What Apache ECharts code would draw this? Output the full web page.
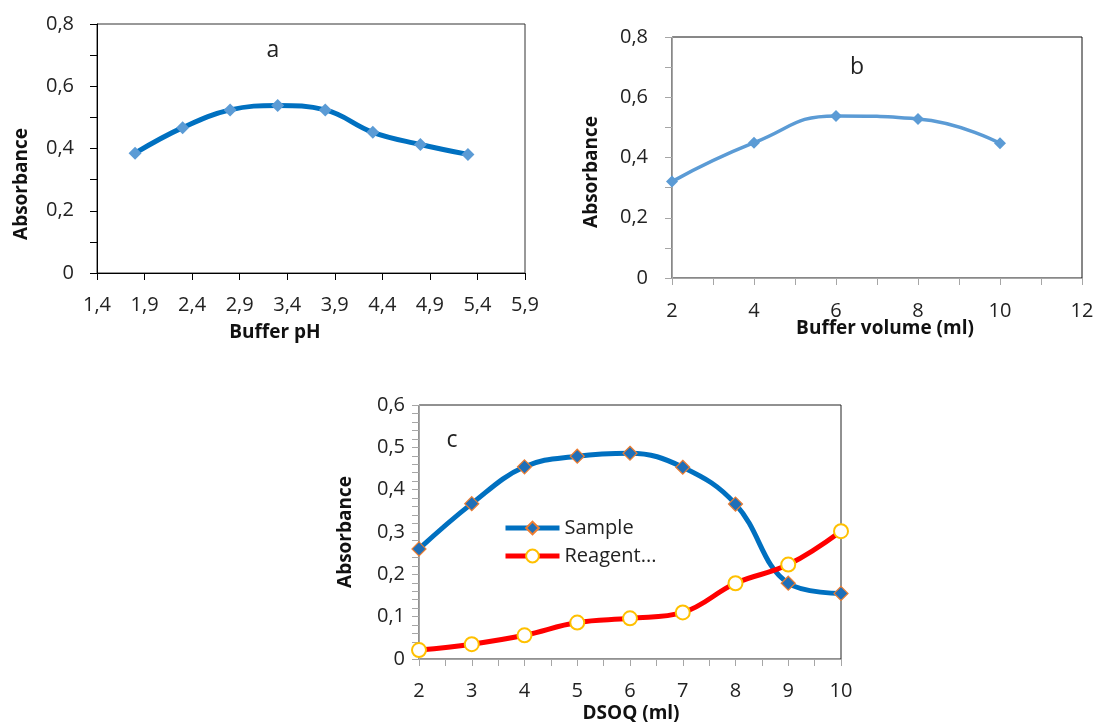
<!DOCTYPE html>
<html>
<head>
<meta charset="utf-8">
<script src="https://cdn.jsdelivr.net/npm/echarts@6/dist/echarts.min.js"></script>
<style>
  html, body { margin: 0; padding: 0; background: #fff; }
  #chart { width: 1101px; height: 722px; }
</style>
</head>
<body>
<div id="chart"></div>
<script>
// a: buffer pH
const phTickStart = 1.4;
const phValues = [1.8, 2.3, 2.8, 3.3, 3.8, 4.3, 4.8, 5.3];
const absorbanceA = [0.385, 0.467, 0.524, 0.538, 0.524, 0.452, 0.413, 0.381];

// b: buffer volume
const bufferVolume = [2, 4, 6, 8, 10];
const absorbanceB = [0.320, 0.449, 0.538, 0.528, 0.447];

// c: DSOQ volume
const dsoqVolume = [2, 3, 4, 5, 6, 7, 8, 9, 10];
const sampleAbs = [0.260, 0.367, 0.454, 0.479, 0.486, 0.453, 0.366, 0.179, 0.155];
const reagentAbs = [0.021, 0.035, 0.056, 0.086, 0.096, 0.110, 0.179, 0.223, 0.302];

const FONT = '"Open Sans", "Noto Sans", sans-serif';
const comma = (v) => String(+v.toFixed(1)).replace('.', ',');
// only label every n-th fine tick (ticks are drawn at the finer step)
const every = (step, fmt) => (v) => {
    const k = v / step;
    return Math.abs(k - Math.round(k)) < 1e-6 ? fmt(v) : '';
};

const labelStyle = { color: '#222', fontSize: 20, fontFamily: FONT };

const makeAxis = (grid, opts, lineColor, margin) => Object.assign({
    gridIndex: grid,
    type: 'value',
    splitLine: { show: false },
    axisLine: { show: true, onZero: false, lineStyle: { color: lineColor, width: 1 } },
    axisTick: { show: true, inside: false, interval: 0, length: 7, lineStyle: { color: lineColor } },
    axisLabel: Object.assign({ margin: margin, interval: 0 }, labelStyle)
}, opts);

const withFormatter = (fmt, margin) => Object.assign({ margin: margin, interval: 0, formatter: fmt }, labelStyle);

const axisTitle = (text, x, y, vertical) => ({
    type: 'text',
    x: x,
    y: y,
    rotation: vertical ? Math.PI / 2 : 0,
    style: {
        text: text,
        font: 'bold 19px ' + FONT,
        fill: '#111',
        align: 'center',
        verticalAlign: 'middle'
    }
});

const panelLetter = (text, x, y) => ({
    type: 'text',
    x: x,
    y: y,
    style: { text: text, font: '23px ' + FONT, fill: '#222', align: 'center', verticalAlign: 'middle' }
});

const chart = echarts.init(document.getElementById('chart'));

const option = {
    animation: false,
    grid: [
        { left: 97, top: 24, width: 428, height: 249, show: true, borderColor: '#333', borderWidth: 1 },
        { left: 672, top: 37, width: 410, height: 241, show: true, borderColor: '#111', borderWidth: 1 },
        { left: 419, top: 405, width: 422, height: 254, show: true, borderColor: '#222', borderWidth: 1 }
    ],
    xAxis: [
        makeAxis(0, {
            min: 0, max: 4.5, interval: 0.5,
            axisLabel: withFormatter((v) => comma(v + phTickStart), 22)
        }, '#000', 22),
        makeAxis(1, {
            min: 2, max: 12, interval: 1,
            axisLabel: withFormatter(every(2, (v) => String(v)), 23)
        }, '#a6a6a6', 23),
        makeAxis(2, {
            min: 2, max: 10, interval: 0.5,
            axisLabel: withFormatter(every(1, (v) => String(v)), 22)
        }, '#a6a6a6', 22)
    ],
    yAxis: [
        makeAxis(0, {
            min: 0, max: 0.8, interval: 0.1,
            axisLabel: withFormatter(every(0.2, comma), 23)
        }, '#000', 23),
        makeAxis(1, {
            min: 0, max: 0.8, interval: 0.1,
            axisLabel: withFormatter(every(0.2, comma), 24)
        }, '#a6a6a6', 24),
        makeAxis(2, {
            min: 0, max: 0.6, interval: 0.02,
            axisLabel: withFormatter(every(0.1, comma), 14)
        }, '#a6a6a6', 14)
    ],
    legend: {
        data: ['Sample', 'Reagent...'],
        orient: 'vertical',
        left: 503,
        top: 518,
        padding: 0,
        itemWidth: 54,
        itemHeight: 16,
        itemGap: 8,
        lineStyle: { width: 5 },
        textStyle: { color: '#222', fontSize: 20, fontFamily: FONT }
    },
    series: [
        {
            name: 'pH',
            type: 'line',
            xAxisIndex: 0, yAxisIndex: 0,
            smooth: 0.4,
            data: phValues.map((p, i) => [p - phTickStart, absorbanceA[i]]),
            lineStyle: { color: '#0070c0', width: 5 },
            symbol: 'diamond', symbolSize: 13,
            itemStyle: { color: '#5b9bd5' }
        },
        {
            name: 'volume',
            type: 'line',
            xAxisIndex: 1, yAxisIndex: 1,
            smooth: 0.5,
            data: bufferVolume.map((v, i) => [v, absorbanceB[i]]),
            lineStyle: { color: '#5b9bd5', width: 3.5 },
            symbol: 'diamond', symbolSize: 12,
            itemStyle: { color: '#5b9bd5' }
        },
        {
            name: 'Sample',
            type: 'line',
            xAxisIndex: 2, yAxisIndex: 2,
            smooth: 0.4,
            data: dsoqVolume.map((v, i) => [v, sampleAbs[i]]),
            lineStyle: { color: '#0070c0', width: 5 },
            symbol: 'diamond', symbolSize: 14,
            itemStyle: { color: '#1f6fb8', borderColor: '#ed7d31', borderWidth: 1.2 }
        },
        {
            name: 'Reagent...',
            type: 'line',
            xAxisIndex: 2, yAxisIndex: 2,
            smooth: 0.4,
            data: dsoqVolume.map((v, i) => [v, reagentAbs[i]]),
            lineStyle: { color: '#ff0000', width: 5 },
            symbol: 'circle', symbolSize: 14,
            itemStyle: { color: '#ffffff', borderColor: '#ffc000', borderWidth: 2 }
        }
    ],
    graphic: [
        axisTitle('Absorbance', 22, 184, true),
        axisTitle('Buffer pH', 275, 333, false),
        axisTitle('Absorbance', 592, 172, true),
        axisTitle('Buffer volume (ml)', 885, 329, false),
        axisTitle('Absorbance', 346, 532, true),
        axisTitle('DSOQ (ml)', 631, 714, false),
        panelLetter('a', 273, 50),
        panelLetter('b', 857, 67),
        panelLetter('c', 452, 440)
    ]
};

chart.setOption(option);
</script>
</body>
</html>
